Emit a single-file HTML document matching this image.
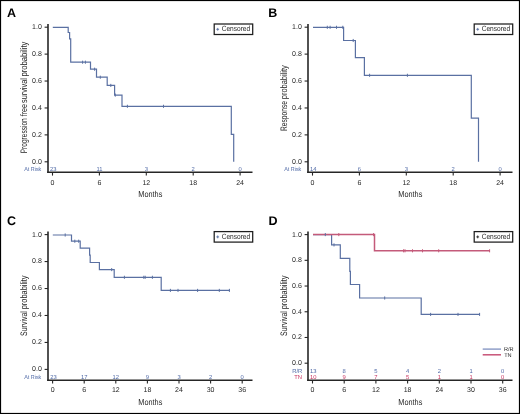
<!DOCTYPE html>
<html><head><meta charset="utf-8"><title>Kaplan-Meier</title>
<style>html,body{margin:0;padding:0;background:#fff;width:520px;height:414px;overflow:hidden;}
body{position:relative;font-family:"Liberation Sans", sans-serif;}</style></head>
<body>
<svg width="520" height="414" viewBox="0 0 520 414" style="position:absolute;left:0;top:0;will-change:transform;font-family:'Liberation Sans', sans-serif" text-rendering="geometricPrecision" will-change="transform">
<rect x="0" y="0" width="520" height="414" fill="#fff"/>
<text x="7.00" y="16.90" font-size="12.5" text-anchor="start" fill="#000" font-weight="bold">A</text>
<line x1="48.00" y1="24.00" x2="48.00" y2="173.00" stroke="#333" stroke-width="1.7"/>
<line x1="47.20" y1="172.30" x2="252.50" y2="172.30" stroke="#262626" stroke-width="1.4"/>
<line x1="44.60" y1="161.80" x2="48.00" y2="161.80" stroke="#262626" stroke-width="1.1"/>
<text x="41.80" y="163.70" font-size="7" text-anchor="end" fill="#262626" font-weight="normal">0.0</text>
<line x1="44.60" y1="134.88" x2="48.00" y2="134.88" stroke="#262626" stroke-width="1.1"/>
<text x="41.80" y="136.78" font-size="7" text-anchor="end" fill="#262626" font-weight="normal">0.2</text>
<line x1="44.60" y1="107.96" x2="48.00" y2="107.96" stroke="#262626" stroke-width="1.1"/>
<text x="41.80" y="109.86" font-size="7" text-anchor="end" fill="#262626" font-weight="normal">0.4</text>
<line x1="44.60" y1="81.04" x2="48.00" y2="81.04" stroke="#262626" stroke-width="1.1"/>
<text x="41.80" y="82.94" font-size="7" text-anchor="end" fill="#262626" font-weight="normal">0.6</text>
<line x1="44.60" y1="54.12" x2="48.00" y2="54.12" stroke="#262626" stroke-width="1.1"/>
<text x="41.80" y="56.02" font-size="7" text-anchor="end" fill="#262626" font-weight="normal">0.8</text>
<line x1="44.60" y1="27.20" x2="48.00" y2="27.20" stroke="#262626" stroke-width="1.1"/>
<text x="41.80" y="29.10" font-size="7" text-anchor="end" fill="#262626" font-weight="normal">1.0</text>
<line x1="52.50" y1="172.30" x2="52.50" y2="175.60" stroke="#262626" stroke-width="1.1"/>
<text x="52.50" y="184.50" font-size="7" text-anchor="middle" fill="#262626" font-weight="normal">0</text>
<line x1="99.40" y1="172.30" x2="99.40" y2="175.60" stroke="#262626" stroke-width="1.1"/>
<text x="99.40" y="184.50" font-size="7" text-anchor="middle" fill="#262626" font-weight="normal">6</text>
<line x1="146.30" y1="172.30" x2="146.30" y2="175.60" stroke="#262626" stroke-width="1.1"/>
<text x="146.30" y="184.50" font-size="7" text-anchor="middle" fill="#262626" font-weight="normal">12</text>
<line x1="193.20" y1="172.30" x2="193.20" y2="175.60" stroke="#262626" stroke-width="1.1"/>
<text x="193.20" y="184.50" font-size="7" text-anchor="middle" fill="#262626" font-weight="normal">18</text>
<line x1="240.10" y1="172.30" x2="240.10" y2="175.60" stroke="#262626" stroke-width="1.1"/>
<text x="240.10" y="184.50" font-size="7" text-anchor="middle" fill="#262626" font-weight="normal">24</text>
<text x="150.30" y="196.80" font-size="8.6" text-anchor="middle" fill="#262626" font-weight="normal" textLength="24" lengthAdjust="spacingAndGlyphs">Months</text>
<g transform="translate(27.20,0) rotate(-90)">
<text x="-153.25" y="0.00" font-size="9.4" text-anchor="start" fill="#262626" font-weight="normal" textLength="35.000000000000014" lengthAdjust="spacingAndGlyphs">Progression</text>
<text x="-116.35" y="0.00" font-size="9.4" text-anchor="start" fill="#262626" font-weight="normal" textLength="12.299999999999994" lengthAdjust="spacingAndGlyphs">free</text>
<text x="-103.05" y="0.00" font-size="9.4" text-anchor="start" fill="#262626" font-weight="normal" textLength="24.900000000000002" lengthAdjust="spacingAndGlyphs">survival</text>
<text x="-76.45" y="0.00" font-size="9.4" text-anchor="start" fill="#262626" font-weight="normal" textLength="34.8" lengthAdjust="spacingAndGlyphs">probability</text>
</g>
<text x="41.30" y="170.90" font-size="5.8" text-anchor="end" fill="#4f69a6" font-weight="normal" textLength="17.1" lengthAdjust="spacingAndGlyphs">At Risk</text>
<text x="50.10" y="170.90" font-size="5.8" text-anchor="start" fill="#4f69a6" font-weight="normal">23</text>
<text x="99.40" y="170.90" font-size="5.8" text-anchor="middle" fill="#4f69a6" font-weight="normal">11</text>
<text x="146.30" y="170.90" font-size="5.8" text-anchor="middle" fill="#4f69a6" font-weight="normal">3</text>
<text x="193.20" y="170.90" font-size="5.8" text-anchor="middle" fill="#4f69a6" font-weight="normal">2</text>
<text x="240.10" y="170.90" font-size="5.8" text-anchor="middle" fill="#4f69a6" font-weight="normal">0</text>
<rect x="214.20" y="24.00" width="38.5" height="10.5" fill="#fff" stroke="#1e1e1e" stroke-width="1.25"/>
<line x1="216.30" y1="29.30" x2="219.10" y2="29.30" stroke="#5a70a2" stroke-width="0.9"/>
<line x1="217.70" y1="27.90" x2="217.70" y2="30.70" stroke="#5a70a2" stroke-width="0.9"/>
<text x="221.70" y="31.40" font-size="7.6" text-anchor="start" fill="#262626" font-weight="normal" textLength="28.5" lengthAdjust="spacingAndGlyphs">Censored</text>
<polyline points="52.80,27.30 68.20,27.30 68.20,32.50 69.60,32.50 69.60,38.80 70.70,38.80 70.70,62.20 90.50,62.20 90.50,69.20 96.50,69.20 96.50,77.20 107.20,77.20 107.20,85.40 114.60,85.40 114.60,95.10 122.00,95.10 122.00,106.30 231.30,106.30 231.30,134.30 233.70,134.30 233.70,161.80" fill="none" stroke="#5a70a2" stroke-width="1.2" stroke-linejoin="miter" stroke-linecap="butt"/>
<line x1="82.60" y1="60.65" x2="82.60" y2="63.75" stroke="#5a70a2" stroke-width="1.0"/>
<line x1="85.40" y1="60.65" x2="85.40" y2="63.75" stroke="#5a70a2" stroke-width="1.0"/>
<line x1="94.60" y1="67.65" x2="94.60" y2="70.75" stroke="#5a70a2" stroke-width="1.0"/>
<line x1="100.30" y1="75.65" x2="100.30" y2="78.75" stroke="#5a70a2" stroke-width="1.0"/>
<line x1="110.80" y1="83.85" x2="110.80" y2="86.95" stroke="#5a70a2" stroke-width="1.0"/>
<line x1="115.30" y1="93.55" x2="115.30" y2="96.65" stroke="#5a70a2" stroke-width="1.0"/>
<line x1="127.40" y1="104.75" x2="127.40" y2="107.85" stroke="#5a70a2" stroke-width="1.0"/>
<line x1="163.50" y1="104.75" x2="163.50" y2="107.85" stroke="#5a70a2" stroke-width="1.0"/>
<text x="268.30" y="16.90" font-size="12.5" text-anchor="start" fill="#000" font-weight="bold">B</text>
<line x1="308.00" y1="24.00" x2="308.00" y2="173.00" stroke="#333" stroke-width="1.7"/>
<line x1="307.20" y1="172.30" x2="512.50" y2="172.30" stroke="#262626" stroke-width="1.4"/>
<line x1="304.60" y1="161.80" x2="308.00" y2="161.80" stroke="#262626" stroke-width="1.1"/>
<text x="301.80" y="163.70" font-size="7" text-anchor="end" fill="#262626" font-weight="normal">0.0</text>
<line x1="304.60" y1="134.88" x2="308.00" y2="134.88" stroke="#262626" stroke-width="1.1"/>
<text x="301.80" y="136.78" font-size="7" text-anchor="end" fill="#262626" font-weight="normal">0.2</text>
<line x1="304.60" y1="107.96" x2="308.00" y2="107.96" stroke="#262626" stroke-width="1.1"/>
<text x="301.80" y="109.86" font-size="7" text-anchor="end" fill="#262626" font-weight="normal">0.4</text>
<line x1="304.60" y1="81.04" x2="308.00" y2="81.04" stroke="#262626" stroke-width="1.1"/>
<text x="301.80" y="82.94" font-size="7" text-anchor="end" fill="#262626" font-weight="normal">0.6</text>
<line x1="304.60" y1="54.12" x2="308.00" y2="54.12" stroke="#262626" stroke-width="1.1"/>
<text x="301.80" y="56.02" font-size="7" text-anchor="end" fill="#262626" font-weight="normal">0.8</text>
<line x1="304.60" y1="27.20" x2="308.00" y2="27.20" stroke="#262626" stroke-width="1.1"/>
<text x="301.80" y="29.10" font-size="7" text-anchor="end" fill="#262626" font-weight="normal">1.0</text>
<line x1="312.50" y1="172.30" x2="312.50" y2="175.60" stroke="#262626" stroke-width="1.1"/>
<text x="312.50" y="184.50" font-size="7" text-anchor="middle" fill="#262626" font-weight="normal">0</text>
<line x1="359.40" y1="172.30" x2="359.40" y2="175.60" stroke="#262626" stroke-width="1.1"/>
<text x="359.40" y="184.50" font-size="7" text-anchor="middle" fill="#262626" font-weight="normal">6</text>
<line x1="406.30" y1="172.30" x2="406.30" y2="175.60" stroke="#262626" stroke-width="1.1"/>
<text x="406.30" y="184.50" font-size="7" text-anchor="middle" fill="#262626" font-weight="normal">12</text>
<line x1="453.20" y1="172.30" x2="453.20" y2="175.60" stroke="#262626" stroke-width="1.1"/>
<text x="453.20" y="184.50" font-size="7" text-anchor="middle" fill="#262626" font-weight="normal">18</text>
<line x1="500.10" y1="172.30" x2="500.10" y2="175.60" stroke="#262626" stroke-width="1.1"/>
<text x="500.10" y="184.50" font-size="7" text-anchor="middle" fill="#262626" font-weight="normal">24</text>
<text x="410.30" y="196.80" font-size="8.6" text-anchor="middle" fill="#262626" font-weight="normal" textLength="24" lengthAdjust="spacingAndGlyphs">Months</text>
<g transform="translate(287.20,0) rotate(-90)">
<text x="-131.05" y="0.00" font-size="9.4" text-anchor="start" fill="#262626" font-weight="normal" textLength="30.09999999999999" lengthAdjust="spacingAndGlyphs">Response</text>
<text x="-99.15" y="0.00" font-size="9.4" text-anchor="start" fill="#262626" font-weight="normal" textLength="33.8" lengthAdjust="spacingAndGlyphs">probability</text>
</g>
<text x="301.30" y="170.90" font-size="5.8" text-anchor="end" fill="#4f69a6" font-weight="normal" textLength="17.1" lengthAdjust="spacingAndGlyphs">At Risk</text>
<text x="310.10" y="170.90" font-size="5.8" text-anchor="start" fill="#4f69a6" font-weight="normal">14</text>
<text x="359.40" y="170.90" font-size="5.8" text-anchor="middle" fill="#4f69a6" font-weight="normal">6</text>
<text x="406.30" y="170.90" font-size="5.8" text-anchor="middle" fill="#4f69a6" font-weight="normal">3</text>
<text x="453.20" y="170.90" font-size="5.8" text-anchor="middle" fill="#4f69a6" font-weight="normal">2</text>
<text x="500.10" y="170.90" font-size="5.8" text-anchor="middle" fill="#4f69a6" font-weight="normal">0</text>
<rect x="474.20" y="24.00" width="38.5" height="10.5" fill="#fff" stroke="#1e1e1e" stroke-width="1.25"/>
<line x1="476.30" y1="29.30" x2="479.10" y2="29.30" stroke="#5a70a2" stroke-width="0.9"/>
<line x1="477.70" y1="27.90" x2="477.70" y2="30.70" stroke="#5a70a2" stroke-width="0.9"/>
<text x="481.70" y="31.40" font-size="7.6" text-anchor="start" fill="#262626" font-weight="normal" textLength="28.5" lengthAdjust="spacingAndGlyphs">Censored</text>
<polyline points="313.00,27.30 343.60,27.30 343.60,40.50 355.40,40.50 355.40,57.70 364.40,57.70 364.40,75.30 471.30,75.30 471.30,118.10 478.50,118.10 478.50,161.80" fill="none" stroke="#5a70a2" stroke-width="1.2" stroke-linejoin="miter" stroke-linecap="butt"/>
<line x1="327.30" y1="25.75" x2="327.30" y2="28.85" stroke="#5a70a2" stroke-width="1.0"/>
<line x1="330.10" y1="25.75" x2="330.10" y2="28.85" stroke="#5a70a2" stroke-width="1.0"/>
<line x1="336.50" y1="25.75" x2="336.50" y2="28.85" stroke="#5a70a2" stroke-width="1.0"/>
<line x1="342.80" y1="25.75" x2="342.80" y2="28.85" stroke="#5a70a2" stroke-width="1.0"/>
<line x1="353.20" y1="38.95" x2="353.20" y2="42.05" stroke="#5a70a2" stroke-width="1.0"/>
<line x1="369.60" y1="73.75" x2="369.60" y2="76.85" stroke="#5a70a2" stroke-width="1.0"/>
<line x1="407.40" y1="73.75" x2="407.40" y2="76.85" stroke="#5a70a2" stroke-width="1.0"/>
<text x="7.00" y="224.50" font-size="12.5" text-anchor="start" fill="#000" font-weight="bold">C</text>
<line x1="48.00" y1="231.60" x2="48.00" y2="380.90" stroke="#333" stroke-width="1.7"/>
<line x1="47.20" y1="380.20" x2="252.50" y2="380.20" stroke="#262626" stroke-width="1.4"/>
<line x1="44.60" y1="369.40" x2="48.00" y2="369.40" stroke="#262626" stroke-width="1.1"/>
<text x="41.80" y="371.30" font-size="7" text-anchor="end" fill="#262626" font-weight="normal">0.0</text>
<line x1="44.60" y1="342.44" x2="48.00" y2="342.44" stroke="#262626" stroke-width="1.1"/>
<text x="41.80" y="344.34" font-size="7" text-anchor="end" fill="#262626" font-weight="normal">0.2</text>
<line x1="44.60" y1="315.48" x2="48.00" y2="315.48" stroke="#262626" stroke-width="1.1"/>
<text x="41.80" y="317.38" font-size="7" text-anchor="end" fill="#262626" font-weight="normal">0.4</text>
<line x1="44.60" y1="288.52" x2="48.00" y2="288.52" stroke="#262626" stroke-width="1.1"/>
<text x="41.80" y="290.42" font-size="7" text-anchor="end" fill="#262626" font-weight="normal">0.6</text>
<line x1="44.60" y1="261.56" x2="48.00" y2="261.56" stroke="#262626" stroke-width="1.1"/>
<text x="41.80" y="263.46" font-size="7" text-anchor="end" fill="#262626" font-weight="normal">0.8</text>
<line x1="44.60" y1="234.60" x2="48.00" y2="234.60" stroke="#262626" stroke-width="1.1"/>
<text x="41.80" y="236.50" font-size="7" text-anchor="end" fill="#262626" font-weight="normal">1.0</text>
<line x1="52.60" y1="380.20" x2="52.60" y2="383.50" stroke="#262626" stroke-width="1.1"/>
<text x="52.60" y="392.40" font-size="7" text-anchor="middle" fill="#262626" font-weight="normal">0</text>
<line x1="84.20" y1="380.20" x2="84.20" y2="383.50" stroke="#262626" stroke-width="1.1"/>
<text x="84.20" y="392.40" font-size="7" text-anchor="middle" fill="#262626" font-weight="normal">6</text>
<line x1="115.80" y1="380.20" x2="115.80" y2="383.50" stroke="#262626" stroke-width="1.1"/>
<text x="115.80" y="392.40" font-size="7" text-anchor="middle" fill="#262626" font-weight="normal">12</text>
<line x1="147.40" y1="380.20" x2="147.40" y2="383.50" stroke="#262626" stroke-width="1.1"/>
<text x="147.40" y="392.40" font-size="7" text-anchor="middle" fill="#262626" font-weight="normal">18</text>
<line x1="179.00" y1="380.20" x2="179.00" y2="383.50" stroke="#262626" stroke-width="1.1"/>
<text x="179.00" y="392.40" font-size="7" text-anchor="middle" fill="#262626" font-weight="normal">24</text>
<line x1="210.60" y1="380.20" x2="210.60" y2="383.50" stroke="#262626" stroke-width="1.1"/>
<text x="210.60" y="392.40" font-size="7" text-anchor="middle" fill="#262626" font-weight="normal">30</text>
<line x1="242.20" y1="380.20" x2="242.20" y2="383.50" stroke="#262626" stroke-width="1.1"/>
<text x="242.20" y="392.40" font-size="7" text-anchor="middle" fill="#262626" font-weight="normal">36</text>
<text x="150.30" y="404.70" font-size="8.6" text-anchor="middle" fill="#262626" font-weight="normal" textLength="24" lengthAdjust="spacingAndGlyphs">Months</text>
<g transform="translate(27.20,0) rotate(-90)">
<text x="-335.95" y="0.00" font-size="9.4" text-anchor="start" fill="#262626" font-weight="normal" textLength="24.800000000000022" lengthAdjust="spacingAndGlyphs">Survival</text>
<text x="-309.25" y="0.00" font-size="9.4" text-anchor="start" fill="#262626" font-weight="normal" textLength="33.7" lengthAdjust="spacingAndGlyphs">probability</text>
</g>
<text x="41.30" y="378.50" font-size="5.8" text-anchor="end" fill="#4f69a6" font-weight="normal" textLength="17.1" lengthAdjust="spacingAndGlyphs">At Risk</text>
<text x="50.20" y="378.50" font-size="5.8" text-anchor="start" fill="#4f69a6" font-weight="normal">23</text>
<text x="84.20" y="378.50" font-size="5.8" text-anchor="middle" fill="#4f69a6" font-weight="normal">17</text>
<text x="115.80" y="378.50" font-size="5.8" text-anchor="middle" fill="#4f69a6" font-weight="normal">12</text>
<text x="147.40" y="378.50" font-size="5.8" text-anchor="middle" fill="#4f69a6" font-weight="normal">9</text>
<text x="179.00" y="378.50" font-size="5.8" text-anchor="middle" fill="#4f69a6" font-weight="normal">3</text>
<text x="210.60" y="378.50" font-size="5.8" text-anchor="middle" fill="#4f69a6" font-weight="normal">2</text>
<text x="242.20" y="378.50" font-size="5.8" text-anchor="middle" fill="#4f69a6" font-weight="normal">0</text>
<rect x="214.20" y="231.60" width="38.5" height="10.5" fill="#fff" stroke="#1e1e1e" stroke-width="1.25"/>
<line x1="216.30" y1="236.90" x2="219.10" y2="236.90" stroke="#5a70a2" stroke-width="0.9"/>
<line x1="217.70" y1="235.50" x2="217.70" y2="238.30" stroke="#5a70a2" stroke-width="0.9"/>
<text x="221.70" y="239.00" font-size="7.6" text-anchor="start" fill="#262626" font-weight="normal" textLength="28.5" lengthAdjust="spacingAndGlyphs">Censored</text>
<polyline points="52.80,235.00 71.50,235.00 71.50,241.20 80.20,241.20 80.20,248.10 89.60,248.10 89.60,255.20 90.20,255.20 90.20,262.50 99.40,262.50 99.40,269.60 114.20,269.60 114.20,277.30 161.20,277.30 161.20,290.40 229.70,290.40" fill="none" stroke="#5a70a2" stroke-width="1.2" stroke-linejoin="miter" stroke-linecap="butt"/>
<line x1="65.20" y1="233.45" x2="65.20" y2="236.55" stroke="#5a70a2" stroke-width="1.0"/>
<line x1="74.80" y1="239.65" x2="74.80" y2="242.75" stroke="#5a70a2" stroke-width="1.0"/>
<line x1="78.70" y1="239.65" x2="78.70" y2="242.75" stroke="#5a70a2" stroke-width="1.0"/>
<line x1="111.70" y1="268.05" x2="111.70" y2="271.15" stroke="#5a70a2" stroke-width="1.0"/>
<line x1="124.40" y1="275.75" x2="124.40" y2="278.85" stroke="#5a70a2" stroke-width="1.0"/>
<line x1="143.80" y1="275.75" x2="143.80" y2="278.85" stroke="#5a70a2" stroke-width="1.0"/>
<line x1="145.20" y1="275.75" x2="145.20" y2="278.85" stroke="#5a70a2" stroke-width="1.0"/>
<line x1="152.40" y1="275.75" x2="152.40" y2="278.85" stroke="#5a70a2" stroke-width="1.0"/>
<line x1="170.40" y1="288.85" x2="170.40" y2="291.95" stroke="#5a70a2" stroke-width="1.0"/>
<line x1="178.00" y1="288.85" x2="178.00" y2="291.95" stroke="#5a70a2" stroke-width="1.0"/>
<line x1="197.60" y1="288.85" x2="197.60" y2="291.95" stroke="#5a70a2" stroke-width="1.0"/>
<line x1="219.30" y1="288.85" x2="219.30" y2="291.95" stroke="#5a70a2" stroke-width="1.0"/>
<line x1="229.40" y1="288.85" x2="229.40" y2="291.95" stroke="#5a70a2" stroke-width="1.0"/>
<text x="268.40" y="224.50" font-size="12.5" text-anchor="start" fill="#000" font-weight="bold">D</text>
<line x1="308.00" y1="231.60" x2="308.00" y2="380.90" stroke="#333" stroke-width="1.7"/>
<line x1="307.20" y1="380.20" x2="512.50" y2="380.20" stroke="#262626" stroke-width="1.4"/>
<line x1="304.60" y1="363.20" x2="308.00" y2="363.20" stroke="#262626" stroke-width="1.1"/>
<text x="301.80" y="365.10" font-size="7" text-anchor="end" fill="#262626" font-weight="normal">0.0</text>
<line x1="304.60" y1="337.48" x2="308.00" y2="337.48" stroke="#262626" stroke-width="1.1"/>
<text x="301.80" y="339.38" font-size="7" text-anchor="end" fill="#262626" font-weight="normal">0.2</text>
<line x1="304.60" y1="311.76" x2="308.00" y2="311.76" stroke="#262626" stroke-width="1.1"/>
<text x="301.80" y="313.66" font-size="7" text-anchor="end" fill="#262626" font-weight="normal">0.4</text>
<line x1="304.60" y1="286.04" x2="308.00" y2="286.04" stroke="#262626" stroke-width="1.1"/>
<text x="301.80" y="287.94" font-size="7" text-anchor="end" fill="#262626" font-weight="normal">0.6</text>
<line x1="304.60" y1="260.32" x2="308.00" y2="260.32" stroke="#262626" stroke-width="1.1"/>
<text x="301.80" y="262.22" font-size="7" text-anchor="end" fill="#262626" font-weight="normal">0.8</text>
<line x1="304.60" y1="234.60" x2="308.00" y2="234.60" stroke="#262626" stroke-width="1.1"/>
<text x="301.80" y="236.50" font-size="7" text-anchor="end" fill="#262626" font-weight="normal">1.0</text>
<line x1="312.50" y1="380.20" x2="312.50" y2="383.50" stroke="#262626" stroke-width="1.1"/>
<text x="312.50" y="392.40" font-size="7" text-anchor="middle" fill="#262626" font-weight="normal">0</text>
<line x1="344.20" y1="380.20" x2="344.20" y2="383.50" stroke="#262626" stroke-width="1.1"/>
<text x="344.20" y="392.40" font-size="7" text-anchor="middle" fill="#262626" font-weight="normal">6</text>
<line x1="375.90" y1="380.20" x2="375.90" y2="383.50" stroke="#262626" stroke-width="1.1"/>
<text x="375.90" y="392.40" font-size="7" text-anchor="middle" fill="#262626" font-weight="normal">12</text>
<line x1="407.60" y1="380.20" x2="407.60" y2="383.50" stroke="#262626" stroke-width="1.1"/>
<text x="407.60" y="392.40" font-size="7" text-anchor="middle" fill="#262626" font-weight="normal">18</text>
<line x1="439.30" y1="380.20" x2="439.30" y2="383.50" stroke="#262626" stroke-width="1.1"/>
<text x="439.30" y="392.40" font-size="7" text-anchor="middle" fill="#262626" font-weight="normal">24</text>
<line x1="471.00" y1="380.20" x2="471.00" y2="383.50" stroke="#262626" stroke-width="1.1"/>
<text x="471.00" y="392.40" font-size="7" text-anchor="middle" fill="#262626" font-weight="normal">30</text>
<line x1="502.70" y1="380.20" x2="502.70" y2="383.50" stroke="#262626" stroke-width="1.1"/>
<text x="502.70" y="392.40" font-size="7" text-anchor="middle" fill="#262626" font-weight="normal">36</text>
<text x="410.30" y="404.70" font-size="8.6" text-anchor="middle" fill="#262626" font-weight="normal" textLength="24" lengthAdjust="spacingAndGlyphs">Months</text>
<g transform="translate(287.20,0) rotate(-90)">
<text x="-335.95" y="0.00" font-size="9.4" text-anchor="start" fill="#262626" font-weight="normal" textLength="24.800000000000022" lengthAdjust="spacingAndGlyphs">Survival</text>
<text x="-309.25" y="0.00" font-size="9.4" text-anchor="start" fill="#262626" font-weight="normal" textLength="33.7" lengthAdjust="spacingAndGlyphs">probability</text>
</g>
<text x="302.30" y="372.60" font-size="5.8" text-anchor="end" fill="#4f69a6" font-weight="normal">R/R</text>
<text x="310.10" y="372.60" font-size="5.8" text-anchor="start" fill="#4f69a6" font-weight="normal">13</text>
<text x="344.20" y="372.60" font-size="5.8" text-anchor="middle" fill="#4f69a6" font-weight="normal">8</text>
<text x="375.90" y="372.60" font-size="5.8" text-anchor="middle" fill="#4f69a6" font-weight="normal">5</text>
<text x="407.60" y="372.60" font-size="5.8" text-anchor="middle" fill="#4f69a6" font-weight="normal">4</text>
<text x="439.30" y="372.60" font-size="5.8" text-anchor="middle" fill="#4f69a6" font-weight="normal">2</text>
<text x="471.00" y="372.60" font-size="5.8" text-anchor="middle" fill="#4f69a6" font-weight="normal">1</text>
<text x="502.70" y="372.60" font-size="5.8" text-anchor="middle" fill="#4f69a6" font-weight="normal">0</text>
<text x="301.90" y="378.60" font-size="5.8" text-anchor="end" fill="#c8325e" font-weight="normal">TN</text>
<text x="310.10" y="378.60" font-size="5.8" text-anchor="start" fill="#c8325e" font-weight="normal">10</text>
<text x="344.20" y="378.60" font-size="5.8" text-anchor="middle" fill="#c8325e" font-weight="normal">9</text>
<text x="375.90" y="378.60" font-size="5.8" text-anchor="middle" fill="#c8325e" font-weight="normal">7</text>
<text x="407.60" y="378.60" font-size="5.8" text-anchor="middle" fill="#c8325e" font-weight="normal">5</text>
<text x="439.30" y="378.60" font-size="5.8" text-anchor="middle" fill="#c8325e" font-weight="normal">1</text>
<text x="471.00" y="378.60" font-size="5.8" text-anchor="middle" fill="#c8325e" font-weight="normal">1</text>
<text x="502.70" y="378.60" font-size="5.8" text-anchor="middle" fill="#c8325e" font-weight="normal">0</text>
<rect x="474.20" y="231.60" width="38.5" height="10.5" fill="#fff" stroke="#1e1e1e" stroke-width="1.25"/>
<line x1="476.30" y1="236.90" x2="479.10" y2="236.90" stroke="#222" stroke-width="0.9"/>
<line x1="477.70" y1="235.50" x2="477.70" y2="238.30" stroke="#222" stroke-width="0.9"/>
<text x="481.70" y="239.00" font-size="7.6" text-anchor="start" fill="#262626" font-weight="normal" textLength="28.5" lengthAdjust="spacingAndGlyphs">Censored</text>
<polyline points="313.00,234.60 331.60,234.60 331.60,244.90 340.30,244.90 340.30,258.40 349.80,258.40 349.80,271.30 350.40,271.30 350.40,284.50 359.60,284.50 359.60,298.00 421.20,298.00 421.20,314.40 479.90,314.40" fill="none" stroke="#5a70a2" stroke-width="1.2" stroke-linejoin="miter" stroke-linecap="butt"/>
<line x1="334.00" y1="243.35" x2="334.00" y2="246.45" stroke="#5a70a2" stroke-width="1.0"/>
<line x1="384.70" y1="296.45" x2="384.70" y2="299.55" stroke="#5a70a2" stroke-width="1.0"/>
<line x1="430.60" y1="312.85" x2="430.60" y2="315.95" stroke="#5a70a2" stroke-width="1.0"/>
<line x1="458.00" y1="312.85" x2="458.00" y2="315.95" stroke="#5a70a2" stroke-width="1.0"/>
<line x1="479.60" y1="312.85" x2="479.60" y2="315.95" stroke="#5a70a2" stroke-width="1.0"/>
<polyline points="313.00,234.60 374.50,234.60 374.50,250.80 489.90,250.80" fill="none" stroke="#c45a7a" stroke-width="1.5" stroke-linejoin="miter" stroke-linecap="butt"/>
<line x1="325.30" y1="233.05" x2="325.30" y2="236.15" stroke="#5a70a2" stroke-width="1.0"/>
<line x1="338.80" y1="233.05" x2="338.80" y2="236.15" stroke="#c45a7a" stroke-width="1.0"/>
<line x1="373.60" y1="233.05" x2="373.60" y2="236.15" stroke="#c45a7a" stroke-width="1.0"/>
<line x1="403.60" y1="249.25" x2="403.60" y2="252.35" stroke="#c45a7a" stroke-width="1.0"/>
<line x1="405.00" y1="249.25" x2="405.00" y2="252.35" stroke="#c45a7a" stroke-width="1.0"/>
<line x1="412.50" y1="249.25" x2="412.50" y2="252.35" stroke="#c45a7a" stroke-width="1.0"/>
<line x1="422.50" y1="249.25" x2="422.50" y2="252.35" stroke="#c45a7a" stroke-width="1.0"/>
<line x1="438.70" y1="249.25" x2="438.70" y2="252.35" stroke="#c45a7a" stroke-width="1.0"/>
<line x1="489.60" y1="249.25" x2="489.60" y2="252.35" stroke="#c45a7a" stroke-width="1.0"/>
<line x1="482.70" y1="349.10" x2="501.00" y2="349.10" stroke="#7f90c0" stroke-width="1.3"/>
<line x1="482.70" y1="354.80" x2="501.00" y2="354.80" stroke="#c85478" stroke-width="1.5"/>
<text x="504.00" y="351.00" font-size="5.6" text-anchor="start" fill="#262626" font-weight="normal">R/R</text>
<text x="504.20" y="356.70" font-size="5.6" text-anchor="start" fill="#262626" font-weight="normal">TN</text>
<rect x="0.5" y="0.5" width="519" height="413" fill="none" stroke="#000" stroke-width="1.2"/>
</svg>
</body></html>
